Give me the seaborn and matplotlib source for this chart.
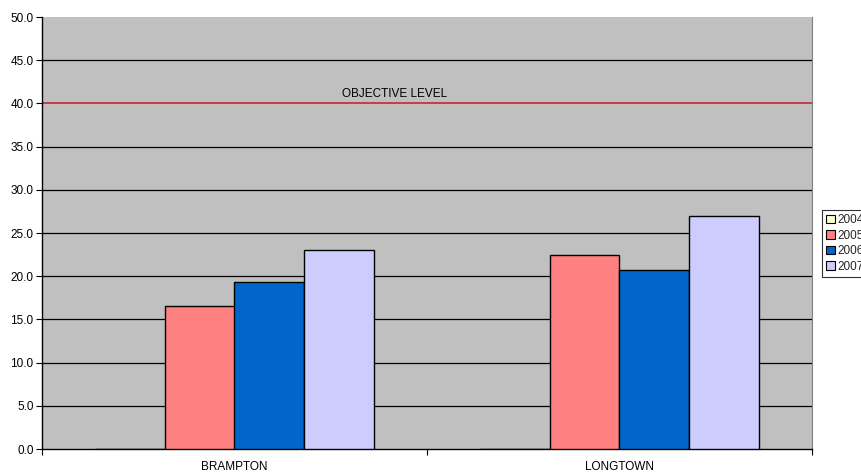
import matplotlib
matplotlib.use("Agg")
import matplotlib.pyplot as plt
from matplotlib.patches import Patch
from matplotlib.ticker import FixedLocator, FormatStrFormatter
import seaborn as sns
import pandas as pd

# Annual mean values per monitoring site
sites = ["BRAMPTON", "LONGTOWN"]
years = ["2004", "2005", "2006", "2007"]
values_2004 = [0.0, 0.0]
values_2005 = [16.5, 22.5]
values_2006 = [19.3, 20.7]
values_2007 = [23.0, 27.0]
objective_level = 40.0
objective_label = "OBJECTIVE LEVEL"

colors = ["#FFFFCC", "#FF8080", "#0066CC", "#CCCCFF"]

df = pd.DataFrame({
    "site": sites * 4,
    "year": [y for y in years for _ in sites],
    "value": values_2004 + values_2005 + values_2006 + values_2007,
})

sns.set_theme(style="white")
plt.rcParams["font.family"] = ["Liberation Sans", "DejaVu Sans"]

fig = plt.figure(figsize=(8.62, 4.72), dpi=100)
ax = fig.add_axes([42 / 862, (472 - 449) / 472, (812 - 42) / 862, (449 - 17) / 472])
ax.set_facecolor("#C0C0C0")

sns.barplot(data=df, x="site", y="value", hue="year", hue_order=years,
            palette=colors, saturation=1, width=0.7272, gap=0,
            edgecolor="black", linewidth=1.0, ax=ax, legend=False, zorder=3)

ax.set_ylim(0, 50)
ax.set_xlim(-0.5, 1.5)
ax.yaxis.set_major_locator(FixedLocator([i * 5 for i in range(11)]))
ax.yaxis.set_major_formatter(FormatStrFormatter("%.1f"))
for y in range(5, 50, 5):
    if y != objective_level:
        ax.axhline(y, color="black", linewidth=0.9, zorder=1)

ax.axhline(objective_level, color="#C8282C", linewidth=1.2, zorder=2)
ax.text(0.417, objective_level + 0.45, objective_label, ha="center", va="bottom",
        fontsize=8.5, color="black")

ax.set_xlabel("")
ax.set_ylabel("")
ax.tick_params(axis="y", which="major", direction="out", length=4, width=0.8,
               color="black", labelsize=8.5, labelcolor="black", pad=2, left=True)
ax.tick_params(axis="x", which="major", length=0, labelsize=8.5,
               labelcolor="black", pad=9)
ax.xaxis.set_minor_locator(FixedLocator([-0.5, 0.5, 1.5]))
ax.tick_params(axis="x", which="minor", direction="out", length=4, width=0.8,
               color="black", bottom=True)

ax.spines["top"].set_visible(False)
ax.spines["right"].set_color("#808080")
ax.spines["right"].set_linewidth(0.8)
ax.spines["left"].set_color("black")
ax.spines["left"].set_linewidth(1.0)
ax.spines["bottom"].set_color("black")
ax.spines["bottom"].set_linewidth(1.0)

handles = [Patch(facecolor=c, edgecolor="black", linewidth=0.8, label=y)
           for c, y in zip(colors, years)]
leg = fig.legend(handles=handles, loc="upper left",
                 bbox_to_anchor=(822 / 862, 1 - 210 / 472),
                 fontsize=8.5, frameon=True, fancybox=False,
                 handlelength=0.75, handleheight=0.75, handletextpad=0.2,
                 labelspacing=0.3, borderpad=0.35, borderaxespad=0)
leg.get_frame().set_edgecolor("black")
leg.get_frame().set_linewidth(0.8)
leg.get_frame().set_facecolor("white")

fig.savefig("out.png", dpi=100)
